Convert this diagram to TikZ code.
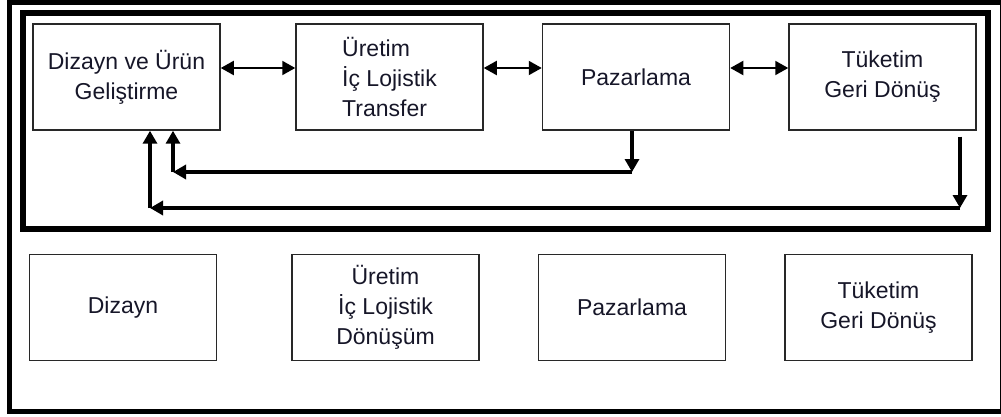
\documentclass[tikz,border=0pt]{standalone}
\usepackage{fontspec}
\setmainfont{Liberation Sans}
\usetikzlibrary{arrows.meta,positioning}
\definecolor{rim}{RGB}{0, 0, 0}
\definecolor{boxline}{RGB}{40, 40, 40}
\definecolor{ink}{RGB}{22, 22, 40}

\begin{document}
\begin{tikzpicture}[
        x=1pt, y=-1pt,
        every node/.style={font=\fontsize{23}{30}\selectfont, text=ink},
        stage/.style={
            draw=boxline,
            line width=1.5pt,
            minimum width=187pt,
            minimum height=106pt,
            inner sep=0pt,
            align=center
        },
        twoway/.style={
            line width=2pt,
            {Triangle[length=13pt,width=14pt]}-{Triangle[length=13pt,width=14pt]}
        },
        feedback/.style={
            line width=3.5pt,
            -{Triangle[length=13pt,width=14pt]}
        }
    ]
    \useasboundingbox (0,0) rectangle (1001,417);

    % frames
    \draw[rim, line width=5pt] (9.5,2.5) rectangle (1002,411.5);
    \draw[rim, line width=6pt] (23,13) rectangle (988,229);

    % upper chain
    \node[stage] (dizurun) at (126.5,77) {Dizayn ve Ürün\\Geliştirme};
    \node[stage, align=left] (uretim) at (389.5,77) {Üretim\\İç Lojistik\\Transfer};
    \node[stage] (pazar) at (636,77) {Pazarlama};
    \node[stage] (tuketim) at (882.5,77) {Tüketim\\Geri Dönüş};

    % lower row
    \node[stage] (dizayn) at (123,307.5) {Dizayn};
    \node[stage] (donusum) at (385.5,307.5) {Üretim\\İç Lojistik\\Dönüşüm};
    \node[stage] (pazarb) at (632,307.5) {Pazarlama};
    \node[stage] (tuketimb) at (878.5,307.5) {Tüketim\\Geri Dönüş};

    \draw[twoway] ([yshift=9pt]dizurun.east) -- ([yshift=9pt]uretim.west);
    \draw[twoway] ([yshift=9pt]uretim.east) -- ([yshift=9pt]pazar.west);
    \draw[twoway] ([yshift=9pt]pazar.east) -- ([yshift=9pt]tuketim.west);

    % return loops
    \coordinate (pz1) at (632,172);
    \coordinate (pz2) at (173,172);
    \coordinate (tk1) at (960,208);
    \coordinate (tk2) at (150,208);

    \draw[feedback] (pazar.south -| pz1) -- (pz1);
    \draw[feedback] (pz1) -- (pz2);
    \draw[feedback] (pz2) -- (dizurun.south -| pz2);

    \draw[feedback, shorten <=6pt] (tuketim.south -| tk1) -- (tk1);
    \draw[feedback] (tk1) -- (tk2);
    \draw[feedback] (tk2) -- (dizurun.south -| tk2);

\end{tikzpicture}
\end{document}
